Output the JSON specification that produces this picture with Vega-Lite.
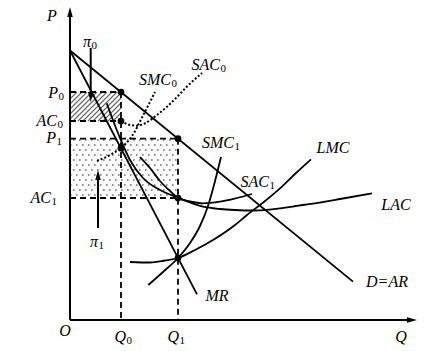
{
  "$schema": "https://vega.github.io/schema/vega-lite/v6.json",
  "width": 447,
  "height": 351,
  "autosize": {"type": "none"},
  "padding": 0,
  "background": "white",
  "config": {"view": {"stroke": null}},
  "datasets": {
    "curves": [
      {"c": "D", "st": "solid", "q": 0, "p": 269.5}, {"c": "D", "st": "solid", "q": 283, "p": 38.4},
      {"c": "MR", "st": "solid", "q": 0, "p": 269.5}, {"c": "MR", "st": "solid", "q": 127, "p": 25.7},
      {"c": "LAC", "st": "solid", "q": 36.7, "p": 216.7}, {"c": "LAC", "st": "solid", "q": 50, "p": 182},
      {"c": "LAC", "st": "solid", "q": 60, "p": 160}, {"c": "LAC", "st": "solid", "q": 73, "p": 142},
      {"c": "LAC", "st": "solid", "q": 90, "p": 130}, {"c": "LAC", "st": "solid", "q": 108, "p": 122.3},
      {"c": "LAC", "st": "solid", "q": 133, "p": 113.3}, {"c": "LAC", "st": "solid", "q": 150, "p": 111},
      {"c": "LAC", "st": "solid", "q": 165, "p": 110}, {"c": "LAC", "st": "solid", "q": 183, "p": 109.5},
      {"c": "LAC", "st": "solid", "q": 233, "p": 115}, {"c": "LAC", "st": "solid", "q": 270, "p": 121},
      {"c": "LAC", "st": "solid", "q": 302, "p": 126.7},
      {"c": "SAC1", "st": "solid", "q": 70, "p": 163}, {"c": "SAC1", "st": "solid", "q": 80, "p": 152},
      {"c": "SAC1", "st": "solid", "q": 90, "p": 139}, {"c": "SAC1", "st": "solid", "q": 100, "p": 129},
      {"c": "SAC1", "st": "solid", "q": 108, "p": 122}, {"c": "SAC1", "st": "solid", "q": 120, "p": 118.5},
      {"c": "SAC1", "st": "solid", "q": 133, "p": 116.7}, {"c": "SAC1", "st": "solid", "q": 150, "p": 118.3},
      {"c": "SAC1", "st": "solid", "q": 167, "p": 122}, {"c": "SAC1", "st": "solid", "q": 182, "p": 126},
      {"c": "SMC1", "st": "solid", "q": 78.3, "p": 35}, {"c": "SMC1", "st": "solid", "q": 93, "p": 48},
      {"c": "SMC1", "st": "solid", "q": 108, "p": 62}, {"c": "SMC1", "st": "solid", "q": 120, "p": 77},
      {"c": "SMC1", "st": "solid", "q": 130, "p": 94}, {"c": "SMC1", "st": "solid", "q": 138, "p": 114},
      {"c": "SMC1", "st": "solid", "q": 144, "p": 135}, {"c": "SMC1", "st": "solid", "q": 151, "p": 163},
      {"c": "LMC", "st": "solid", "q": 60, "p": 58}, {"c": "LMC", "st": "solid", "q": 80, "p": 57.5},
      {"c": "LMC", "st": "solid", "q": 95, "p": 59.5}, {"c": "LMC", "st": "solid", "q": 108, "p": 62},
      {"c": "LMC", "st": "solid", "q": 125, "p": 70}, {"c": "LMC", "st": "solid", "q": 143, "p": 80},
      {"c": "LMC", "st": "solid", "q": 165, "p": 95}, {"c": "LMC", "st": "solid", "q": 177, "p": 105},
      {"c": "LMC", "st": "solid", "q": 195, "p": 119}, {"c": "LMC", "st": "solid", "q": 210, "p": 131.7},
      {"c": "LMC", "st": "solid", "q": 226, "p": 147}, {"c": "LMC", "st": "solid", "q": 241, "p": 160.7},
      {"c": "SAC0", "st": "dot", "q": 51, "p": 199}, {"c": "SAC0", "st": "dot", "q": 60, "p": 195},
      {"c": "SAC0", "st": "dot", "q": 67, "p": 194.3}, {"c": "SAC0", "st": "dot", "q": 75, "p": 196.7},
      {"c": "SAC0", "st": "dot", "q": 87, "p": 205}, {"c": "SAC0", "st": "dot", "q": 97, "p": 213.3},
      {"c": "SAC0", "st": "dot", "q": 107, "p": 223}, {"c": "SAC0", "st": "dot", "q": 117, "p": 233.5},
      {"c": "SAC0", "st": "dot", "q": 132, "p": 247},
      {"c": "SMC0", "st": "dot", "q": 27, "p": 159}, {"c": "SMC0", "st": "dot", "q": 40, "p": 165},
      {"c": "SMC0", "st": "dot", "q": 51, "p": 172}, {"c": "SMC0", "st": "dot", "q": 61.7, "p": 183.5},
      {"c": "SMC0", "st": "dot", "q": 73.3, "p": 205}, {"c": "SMC0", "st": "dot", "q": 85, "p": 228}
    ],
    "dashed": [
      {"q": 0, "p": 228, "q2": 51, "p2": 228},
      {"q": 0, "p": 199, "q2": 51, "p2": 199},
      {"q": 51, "p": 228, "q2": 51, "p2": 0},
      {"q": 0, "p": 181.3, "q2": 108, "p2": 181.3},
      {"q": 0, "p": 122, "q2": 108, "p2": 122},
      {"q": 108, "p": 181.3, "q2": 108, "p2": 0}
    ],
    "solidrules": [
      {"q": 0, "p": 0, "q2": 0, "p2": 305},
      {"q": 0, "p": 0, "q2": 343, "p2": 0},
      {"q": 20.7, "p": 272, "q2": 20.7, "p2": 224},
      {"q": 28, "p": 92, "q2": 28, "p2": 144}
    ],
    "heads": [
      {"d": "up", "q": 0, "p": 308},
      {"d": "right", "q": 342, "p": 0},
      {"d": "down", "q": 20.7, "p": 223},
      {"d": "up", "q": 28, "p": 145}
    ],
    "hatch": [
      {"q": 0, "p": 226, "q2": 2, "p2": 228}, {"q": 0, "p": 221, "q2": 7, "p2": 228},
      {"q": 0, "p": 216, "q2": 12, "p2": 228}, {"q": 0, "p": 211, "q2": 17, "p2": 228},
      {"q": 0, "p": 206, "q2": 22, "p2": 228}, {"q": 0, "p": 201, "q2": 27, "p2": 228},
      {"q": 3, "p": 199, "q2": 32, "p2": 228}, {"q": 8, "p": 199, "q2": 37, "p2": 228},
      {"q": 13, "p": 199, "q2": 42, "p2": 228}, {"q": 18, "p": 199, "q2": 47, "p2": 228},
      {"q": 23, "p": 199, "q2": 51, "p2": 227}, {"q": 28, "p": 199, "q2": 51, "p2": 222},
      {"q": 33, "p": 199, "q2": 51, "p2": 217}, {"q": 38, "p": 199, "q2": 51, "p2": 212},
      {"q": 43, "p": 199, "q2": 51, "p2": 207}, {"q": 48, "p": 199, "q2": 51, "p2": 202}
    ],
    "dotsA": [
      {"q": 0, "q2": 108, "p": 125}, {"q": 0, "q2": 108, "p": 135}, {"q": 0, "q2": 108, "p": 145},
      {"q": 0, "q2": 108, "p": 155}, {"q": 0, "q2": 108, "p": 165}, {"q": 0, "q2": 108, "p": 175}
    ],
    "dotsB": [
      {"q": 0, "q2": 108, "p": 130}, {"q": 0, "q2": 108, "p": 140}, {"q": 0, "q2": 108, "p": 150},
      {"q": 0, "q2": 108, "p": 160}, {"q": 0, "q2": 108, "p": 170}, {"q": 0, "q2": 108, "p": 180}
    ],
    "points": [
      {"q": 51, "p": 228}, {"q": 51, "p": 199}, {"q": 51, "p": 171.8},
      {"q": 108, "p": 181.3}, {"q": 108, "p": 122}, {"q": 108, "p": 62.1}
    ],
    "labs": [
      {"t": "P", "s": "0", "q": -12, "p": 227},
      {"t": "AC", "s": "0", "q": -13, "p": 199},
      {"t": "P", "s": "1", "q": -14, "p": 182},
      {"t": "AC", "s": "1", "q": -19, "p": 122},
      {"t": "Q", "s": "0", "q": 56, "p": -17},
      {"t": "Q", "s": "1", "q": 109, "p": -17},
      {"t": "π", "s": "0", "q": 21, "p": 278},
      {"t": "π", "s": "1", "q": 28, "p": 78},
      {"t": "SMC", "s": "0", "q": 101, "p": 240},
      {"t": "SAC", "s": "0", "q": 150, "p": 255},
      {"t": "SMC", "s": "1", "q": 164, "p": 177},
      {"t": "SAC", "s": "1", "q": 199, "p": 138}
    ],
    "clabs": [
      {"t": "P", "q": -18, "p": 304},
      {"t": "Q", "q": 331, "p": -17},
      {"t": "O", "q": -5, "p": -11},
      {"t": "LMC", "q": 263, "p": 172},
      {"t": "LAC", "q": 326, "p": 115},
      {"t": "MR", "q": 147, "p": 24},
      {"t": "D=AR", "q": 317, "p": 38}
    ]
  },
  "encoding": {
    "x": {"field": "q", "type": "quantitative", "scale": {"domain": [-70, 377], "nice": false, "zero": false}, "axis": null},
    "y": {"field": "p", "type": "quantitative", "scale": {"domain": [-31, 320], "nice": false, "zero": false}, "axis": null}
  },
  "layer": [
    {
      "data": {"name": "dotsA"},
      "mark": {"type": "rule", "stroke": "#6e6e6e", "strokeWidth": 1.6, "strokeDash": [1.6, 4.4]},
      "encoding": {"x2": {"field": "q2"}}
    },
    {
      "data": {"name": "dotsB"},
      "mark": {"type": "rule", "stroke": "#6e6e6e", "strokeWidth": 1.6, "strokeDash": [1.6, 4.4], "strokeDashOffset": 3},
      "encoding": {"x2": {"field": "q2"}}
    },
    {
      "data": {"name": "hatch"},
      "mark": {"type": "rule", "stroke": "#666666", "strokeWidth": 1.1},
      "encoding": {"x2": {"field": "q2"}, "y2": {"field": "p2"}}
    },
    {
      "data": {"name": "dashed"},
      "mark": {"type": "rule", "stroke": "black", "strokeWidth": 1.8, "strokeDash": [6, 4]},
      "encoding": {"x2": {"field": "q2"}, "y2": {"field": "p2"}}
    },
    {
      "data": {"name": "solidrules"},
      "mark": {"type": "rule", "stroke": "black", "strokeWidth": 2},
      "encoding": {"x2": {"field": "q2"}, "y2": {"field": "p2"}}
    },
    {
      "data": {"name": "curves"},
      "transform": [{"filter": "datum.st === 'solid'"}],
      "mark": {"type": "line", "stroke": "black", "strokeWidth": 1.8, "interpolate": "monotone"},
      "encoding": {"detail": {"field": "c", "type": "nominal"}}
    },
    {
      "data": {"name": "curves"},
      "transform": [{"filter": "datum.st === 'dot'"}],
      "mark": {"type": "line", "stroke": "black", "strokeWidth": 2, "strokeDash": [2, 2], "interpolate": "monotone"},
      "encoding": {"detail": {"field": "c", "type": "nominal"}}
    },
    {
      "data": {"name": "heads"},
      "mark": {"type": "point", "filled": true, "fill": "black", "stroke": null, "opacity": 1, "size": 100},
      "encoding": {
        "shape": {"field": "d", "type": "nominal", "legend": null,
          "scale": {"domain": ["up", "down", "right"], "range": ["M0,-1L0.55,1L-0.55,1Z", "M0,1L0.55,-1L-0.55,-1Z", "M1,0L-1,0.55L-1,-0.55Z"]}}
      }
    },
    {
      "data": {"name": "points"},
      "mark": {"type": "point", "filled": true, "fill": "black", "opacity": 1, "size": 45, "shape": "circle"}
    },
    {
      "data": {"name": "labs"},
      "mark": {"type": "text", "align": "right", "baseline": "middle", "font": "Liberation Serif", "fontStyle": "italic", "fontSize": 16, "color": "black"},
      "encoding": {"text": {"field": "t"}}
    },
    {
      "data": {"name": "labs"},
      "mark": {"type": "text", "align": "left", "baseline": "middle", "font": "Liberation Serif", "fontSize": 11, "dy": 4, "dx": 0.5, "color": "black"},
      "encoding": {"text": {"field": "s"}}
    },
    {
      "data": {"name": "clabs"},
      "mark": {"type": "text", "align": "center", "baseline": "middle", "font": "Liberation Serif", "fontStyle": "italic", "fontSize": 16, "color": "black"},
      "encoding": {"text": {"field": "t"}}
    }
  ]
}
